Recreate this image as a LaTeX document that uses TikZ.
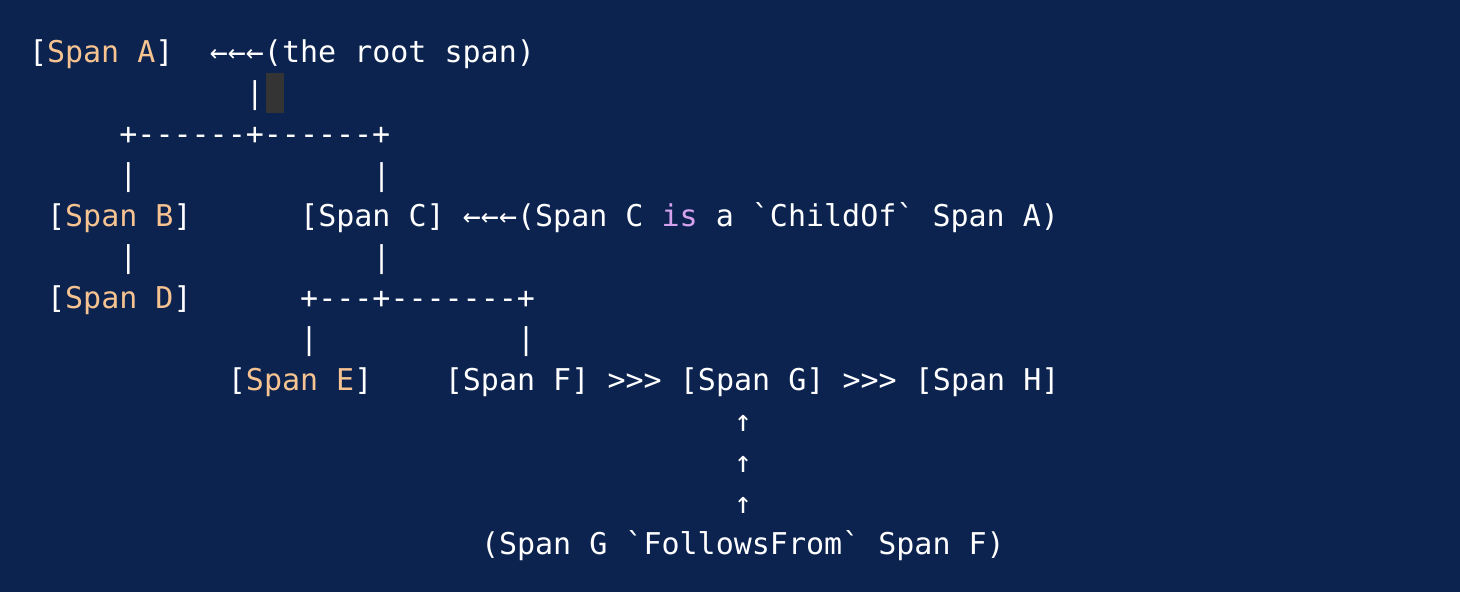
\documentclass[tikz,border=0pt]{standalone}
\usepackage{fontspec}
\setmonofont{DejaVu Sans Mono}
\usepackage{xcolor}
\usetikzlibrary{positioning}
\definecolor{bgnavy}{RGB}{12,35,80}
\definecolor{spanorange}{RGB}{246,195,145}
\definecolor{kwpurple}{RGB}{214,162,238}
\definecolor{cursorgray}{RGB}{52,52,52}
\tikzset{
  ascii/.style={
    font=\ttfamily\fontsize{15}{20}\selectfont,
    text=white,
    inner sep=0pt,
    anchor=base west
  },
}
\newcommand\SpanLit[1]{[\textcolor{spanorange}{Span #1}]}
\begin{document}
\begin{tikzpicture}[x=9.04pt,y=-20.5pt]
    % one unit = one character cell, one row = one line
    \fill[bgnavy] (-14.3pt,31.5pt) rectangle (715.7pt,-264.5pt);

    \node[ascii] (spanA) at (0,0) {\SpanLit{A}};
    \node[ascii] (rootnote) at (10,0) {←←←(the root span)};
    \node[ascii] (barA) at (12,1) {|};
    \fill[cursorgray] (13.15,0.25) rectangle (14.15,1.22);

    \node[ascii] (forkA) at (5,2) {+------+------+};
    \node[ascii] (barB) at (5,3) {|};
    \node[ascii] (barC) at (19,3) {|};
    \node[ascii] (spanB) at (1,4) {\SpanLit{B}};
    \node[ascii] (spanC) at (15,4) {[Span C]};
    \node[ascii] (childnote) at (24,4) {←←←(Span C \textcolor{kwpurple}{is} a `ChildOf` Span A)};
    \node[ascii] (barD) at (5,5) {|};
    \node[ascii] (barCdown) at (19,5) {|};
    \node[ascii] (spanD) at (1,6) {\SpanLit{D}};
    \node[ascii] (forkC) at (15,6) {+---+-------+};
    \node[ascii] (barE) at (15,7) {|};
    \node[ascii] (barF) at (27,7) {|};

    \node[ascii] (spanE) at (11,8) {\SpanLit{E}};
    \node[ascii] (spanF) at (23,8) {[Span F]};
    \node[ascii] (followFG) at (32,8) {>>>};
    \node[ascii] (spanG) at (36,8) {[Span G]};
    \node[ascii] (followGH) at (45,8) {>>>};
    \node[ascii] (spanH) at (49,8) {[Span H]};

    \foreach \r in {9,10,11}
        \node[ascii] (up\r) at (39,\r) {↑};
    \node[ascii] (followsnote) at (25,12) {(Span G `FollowsFrom` Span F)};
\end{tikzpicture}
\end{document}
